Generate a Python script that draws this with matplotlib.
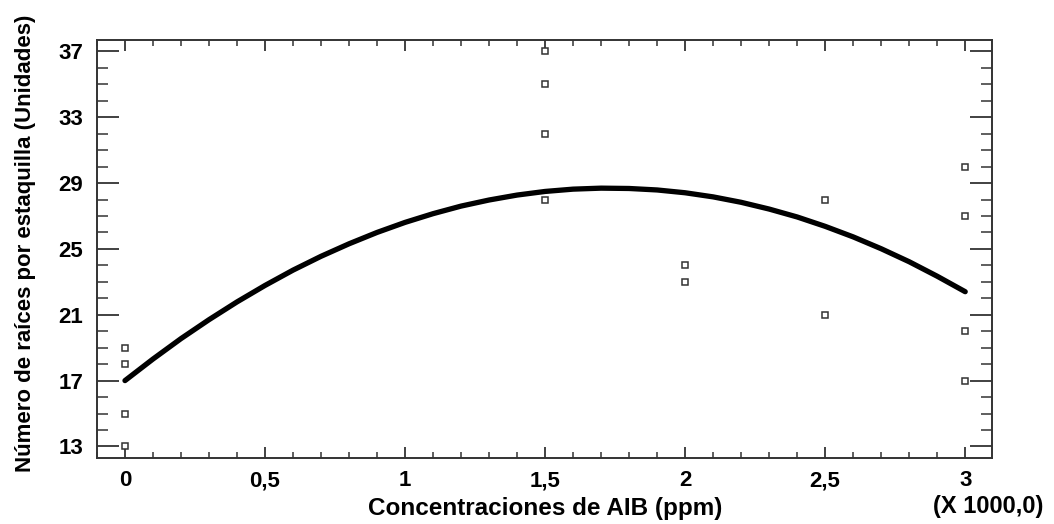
import numpy as np
import matplotlib
matplotlib.use("Agg")
import matplotlib.pyplot as plt
from matplotlib.ticker import MultipleLocator, FuncFormatter

plt.rcParams['font.family'] = ['Liberation Sans', 'DejaVu Sans']
plt.rcParams['font.weight'] = 'bold'

# observed points (x in thousands of ppm)
conc = [0, 0, 0, 0, 1.5, 1.5, 1.5, 1.5, 2, 2, 2.5, 2.5, 3, 3, 3, 3]
raices = [19, 18, 15, 13, 37, 35, 32, 28, 24, 23, 28, 21, 30, 27, 20, 17]

# fitted curve
curva_x = [0, 0.1, 0.2, 0.3, 0.4, 0.5, 0.6, 0.7, 0.8, 0.9, 1.0,
           1.1, 1.2, 1.3, 1.4, 1.5, 1.6, 1.7, 1.8, 1.9, 2.0,
           2.1, 2.2, 2.3, 2.4, 2.5, 2.6, 2.7, 2.8, 2.9, 3.0]
curva_y = [17.00, 18.31, 19.55, 20.70, 21.78, 22.78, 23.71, 24.55, 25.31, 26.00, 26.61,
           27.14, 27.60, 27.97, 28.27, 28.49, 28.63, 28.69, 28.67, 28.58, 28.41,
           28.16, 27.83, 27.42, 26.94, 26.37, 25.73, 25.01, 24.22, 23.34, 22.40]

fig = plt.figure(figsize=(10.54, 5.24), dpi=100)
ax = fig.add_axes([0.092, 0.126, 0.849, 0.798])

ax.plot(curva_x, curva_y, color='black', lw=3.8, solid_capstyle='round', zorder=2)
ax.plot(conc, raices, ls='none', marker='s', ms=5, mfc='white', mec='#333333', mew=1.1, zorder=3)

ax.set_xlim(-0.1, 3.095)
ax.set_ylim(12.3, 37.7)

ax.xaxis.set_major_locator(MultipleLocator(0.5))
ax.xaxis.set_minor_locator(MultipleLocator(0.1))
ax.yaxis.set_minor_locator(MultipleLocator(1))
ax.set_yticks(range(13, 38, 4))

def fmt(v, pos):
    return ('%g' % v).replace('.', ',')
ax.xaxis.set_major_formatter(FuncFormatter(fmt))

ax.tick_params(axis='x', which='major', direction='in', length=8, width=1.3,
               top=True, bottom=True, pad=9, labelsize=16, color='#333333')
ax.tick_params(axis='x', which='minor', direction='in', length=4, width=1.1,
               top=True, bottom=True, color='#333333')
ax.tick_params(axis='y', which='major', direction='in', length=16, width=1.3,
               left=True, right=True, pad=10, labelsize=16, color='#333333')
ax.tick_params(axis='y', which='minor', direction='in', length=8, width=1.1,
               left=True, right=True, color='#333333')
for lab in ax.get_xticklabels() + ax.get_yticklabels():
    lab.set_fontweight('bold')

for sp in ax.spines.values():
    sp.set_linewidth(1.4)
    sp.set_color('#333333')

fig.text(0.517, 0.029, 'Concentraciones de AIB (ppm)', fontsize=17.5, fontweight='bold',
         ha='center', va='center')
fig.text(0.024, 0.536, 'Número de raíces por estaquilla (Unidades)', fontsize=16,
         fontweight='bold', rotation=90, ha='center', va='center')
fig.text(0.938, 0.033, '(X 1000,0)', fontsize=17, fontweight='bold', ha='center', va='center')

fig.savefig('out.png', dpi=100)
